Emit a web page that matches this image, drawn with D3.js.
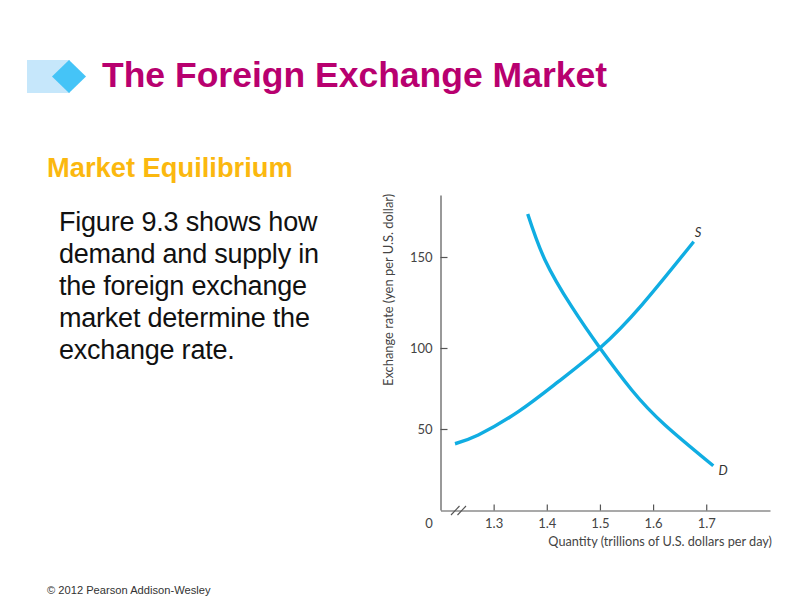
<!DOCTYPE html>
<html><head><meta charset="utf-8">
<script src="https://d3js.org/d3.v7.min.js"></script>
<style>html,body{margin:0;padding:0;background:#fff;overflow:hidden}svg{display:block}</style>
</head><body><svg id="c" width="800" height="600"></svg>
<script>
const titleText = "The Foreign Exchange Market";
const subtitleText = "Market Equilibrium";
const bodyLines = ["Figure 9.3 shows how","demand and supply in","the foreign exchange","market determine the","exchange rate."];
const footerText = "© 2012 Pearson Addison-Wesley";
const xTicks = [1.3,1.4,1.5,1.6,1.7];
const yTicks = [50,100,150];
const xTitle = "Quantity (trillions of U.S. dollars per day)";
const yTitle = "Exchange rate (yen per U.S. dollar)";
const supplyQ = [1.2273,1.2711,1.3464,1.4217,1.5,1.5786,1.6764];
const supplyR = [40.9,46.3,60.7,79.2,100,123.6,158.4];
const demandQ = [1.3641,1.3966,1.4469,1.5,1.5598,1.6224,1.7133];
const demandR = [173.6,148.4,122.7,100,74.1,52.5,27.3];

const svg = d3.select("#c");
const x = d3.scaleLinear().domain([1.2,1.82]).range([440.5,770]);
const y = d3.scaleLinear().domain([0,50,100,150,184]).range([510,429,348,257,195]);
const chartFont = "Lato, 'Open Sans', sans-serif";
const axisColor = "#555";
const curveColor = "#10ade2";

// header decoration
svg.append("rect").attr("x",27).attr("y",60).attr("width",43).attr("height",33).attr("fill","#c6e7fb");
svg.append("path").attr("d","M69,60L86,76.5L69,93L52,76.5Z").attr("fill","#45c4f7");

const sans = "'Liberation Sans', Arial, sans-serif";
svg.append("text").attr("x",102).attr("y",87).attr("font-family",sans).attr("font-weight","bold")
  .attr("font-size",35.5).attr("fill","#b8006f").text(titleText);
svg.append("text").attr("x",47).attr("y",177).attr("font-family",sans).attr("font-weight","bold")
  .attr("font-size",27.3).attr("fill","#fbb80f").text(subtitleText);
svg.append("g").selectAll("text").data(bodyLines).join("text")
  .attr("x",59).attr("y",(d,i)=>231+i*32)
  .attr("font-family",sans).attr("font-size",27).attr("letter-spacing",-0.22).attr("fill","#111").text(d=>d);
svg.append("text").attr("x",47).attr("y",594).attr("font-family",sans).attr("font-size",11.15)
  .attr("fill","#333").text(footerText);

// axes
const gx = svg.append("g").attr("transform","translate(0,510.5)")
  .call(d3.axisBottom(x).tickValues(xTicks).tickFormat(d3.format(".1f")).tickSizeInner(-6).tickSizeOuter(0).tickPadding(8));
const gy = svg.append("g").attr("transform","translate(440.5,0)")
  .call(d3.axisLeft(y).tickValues(yTicks).tickSizeInner(-7).tickSizeOuter(0).tickPadding(8));
[gx,gy].forEach(g=>{
  g.selectAll("path,line").attr("stroke",axisColor).attr("stroke-width",1.2);
  g.selectAll("text").attr("font-family",chartFont).attr("font-size",13).attr("fill","#444");
});
svg.append("text").attr("x",429).attr("y",527.5).attr("text-anchor","middle")
  .attr("font-family",chartFont).attr("font-size",13).attr("fill","#444").text("0");
svg.append("g").attr("stroke",axisColor).attr("stroke-width",1.1).selectAll("line").data([0,6.5]).join("line")
  .attr("x1",d=>451+d).attr("y1",515).attr("x2",d=>459.5+d).attr("y2",506);

svg.append("text").attr("x",772).attr("y",546).attr("text-anchor","end")
  .attr("font-family",chartFont).attr("font-size",12.7).attr("fill","#444").text(xTitle);
svg.append("text").attr("transform","translate(393,386) rotate(-90)")
  .attr("font-family",chartFont).attr("font-size",12.9).attr("fill","#444").text(yTitle);

// curves
const line = d3.line().x(d=>x(d[0])).y(d=>y(d[1])).curve(d3.curveNatural);
[[supplyQ,supplyR],[demandQ,demandR]].forEach(([q,r])=>{
  svg.append("path").attr("d",line(q.map((v,i)=>[v,r[i]]))).attr("fill","none")
    .attr("stroke",curveColor).attr("stroke-width",3.4);
});
svg.append("text").attr("x",698).attr("y",236.5).attr("text-anchor","middle").attr("font-family",chartFont)
  .attr("font-style","italic").attr("font-size",13).attr("fill","#333").text("S");
svg.append("text").attr("x",723).attr("y",475).attr("text-anchor","middle").attr("font-family",chartFont)
  .attr("font-style","italic").attr("font-size",13).attr("fill","#333").text("D");
</script></body></html>
